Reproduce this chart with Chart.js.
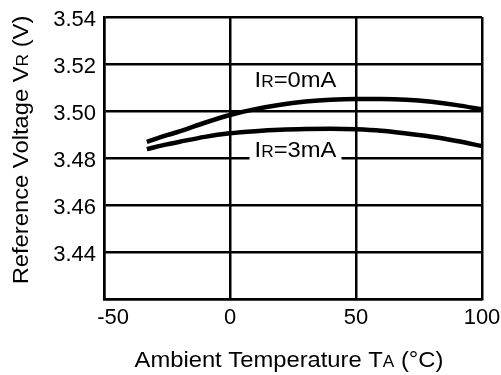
<!DOCTYPE html>
<html>
<head>
<meta charset="utf-8">
<script src="https://cdn.jsdelivr.net/npm/chart.js@4/dist/chart.umd.min.js"></script>
<style>
  html, body { margin: 0; padding: 0; background: #fff; }
  canvas { display: block; }
</style>
</head>
<body>
<canvas id="vrChart" width="501" height="375"></canvas>
<script>
// temperature (°C) and reference voltage (V)
const temps = [-33, -25, -20, -10, 0, 10, 20, 30, 40, 50, 60, 70, 80, 90, 100];
const vrNoLoad = [3.4869, 3.4897, 3.4913, 3.4950, 3.4983, 3.5008, 3.5027, 3.5040, 3.5048, 3.5051, 3.5051, 3.5048, 3.5039, 3.5025, 3.5007];
const vrLoad3mA = [3.4838, 3.4858, 3.4869, 3.4890, 3.4905, 3.4914, 3.4920, 3.4923, 3.4924, 3.4922, 3.4916, 3.4904, 3.4890, 3.4872, 3.4851];

const xTicks = [-50, 0, 50, 100];
const yTicks = [3.42, 3.44, 3.46, 3.48, 3.50, 3.52, 3.54];

const FONT = '"Liberation Sans", Arial, sans-serif';
const STRETCH = 1.08; // original lettering is a bit wider than Liberation Sans

// writes "main" + small "sub" + "rest" on one baseline, centred at x
function subText(ctx, x, y, main, sub, rest, big, small) {
    ctx.save();
    ctx.font = big + 'px ' + FONT;
    const w1 = ctx.measureText(main).width;
    const w3 = ctx.measureText(rest).width;
    ctx.font = small + 'px ' + FONT;
    const w2 = ctx.measureText(sub).width;
    ctx.translate(x, y);
    ctx.scale(STRETCH, 1);
    let cx = -(w1 + w2 + w3) / 2;
    ctx.textAlign = 'left';
    ctx.textBaseline = 'alphabetic';
    ctx.font = big + 'px ' + FONT;
    ctx.fillText(main, cx, 0);
    cx += w1;
    ctx.font = small + 'px ' + FONT;
    ctx.fillText(sub, cx, 0);
    cx += w2;
    ctx.font = big + 'px ' + FONT;
    ctx.fillText(rest, cx, 0);
    ctx.restore();
}

const labelsPlugin = {
    id: 'curveLabels',
    afterDatasetsDraw(chart) {
        const ctx = chart.ctx;
        const xs = chart.scales.x, ys = chart.scales.y;
        ctx.save();
        ctx.fillStyle = '#000';

        // IR=0mA label
        subText(ctx, xs.getPixelForValue(26), ys.getPixelForValue(3.5102), 'I', 'R', '=0mA', 22, 16);

        // IR=3mA label, white box cuts the grid line
        const lx = xs.getPixelForValue(26), ly = ys.getPixelForValue(3.4804);
        ctx.fillStyle = '#fff';
        ctx.fillRect(lx - 46, ly - 17, 92, 22);
        ctx.fillStyle = '#000';
        subText(ctx, lx, ly, 'I', 'R', '=3mA', 22, 16);

        // axis titles
        subText(ctx, 289, 367, 'Ambient Temperature T', 'A', ' (°C)', 22, 16);

        ctx.translate(28, 150);
        ctx.rotate(-Math.PI / 2);
        subText(ctx, 0, 0, 'Reference Voltage V', 'R', ' (V)', 22, 16);
        ctx.restore();
    }
};

const ctx = document.getElementById('vrChart').getContext('2d');
new Chart(ctx, {
    type: 'line',
    data: {
        datasets: [{
            label: 'IR=0mA',
            data: temps.map((t, i) => ({ x: t, y: vrNoLoad[i] })),
            borderColor: '#000',
            borderWidth: 4.5,
            pointRadius: 0,
            fill: false,
            cubicInterpolationMode: 'monotone'
        }, {
            label: 'IR=3mA',
            data: temps.map((t, i) => ({ x: t, y: vrLoad3mA[i] })),
            borderColor: '#000',
            borderWidth: 4.5,
            pointRadius: 0,
            fill: false,
            cubicInterpolationMode: 'monotone'
        }]
    },
    options: {
        responsive: false,
        animation: false,
        layout: { padding: { left: 0, top: 17, right: 19, bottom: 0 } },
        plugins: {
            legend: { display: false },
            tooltip: { enabled: false }
        },
        scales: {
            x: {
                type: 'linear',
                min: -50,
                max: 100,
                afterBuildTicks: scale => { scale.ticks = xTicks.map(v => ({ value: v })); },
                afterFit: scale => {
                    scale.height = 76;
                    scale.paddingLeft = 0;
                    scale.paddingRight = 0;
                },
                grid: { color: '#000', lineWidth: 2.5, drawTicks: false },
                border: { color: '#000', width: 2.5 },
                ticks: {
                    color: '#000',
                    padding: 6,
                    maxRotation: 0,
                    font: { family: FONT, size: 22 },
                    // leading spaces nudge "-50" right, as in the original
                    callback: v => (v === -50 ? '   -50' : String(v))
                }
            },
            y: {
                min: 3.42,
                max: 3.54,
                afterBuildTicks: scale => { scale.ticks = yTicks.map(v => ({ value: v })); },
                afterFit: scale => {
                    scale.width = 104;
                    scale.paddingTop = 0;
                    scale.paddingBottom = 0;
                },
                grid: { color: '#000', lineWidth: 2.5, drawTicks: false },
                border: { color: '#000', width: 2.5 },
                ticks: {
                    color: '#000',
                    padding: 8,
                    labelOffset: 3,
                    font: { family: FONT, size: 22 },
                    callback: v => (v < 3.43 ? '' : v.toFixed(2))
                }
            }
        }
    },
    plugins: [labelsPlugin]
});
</script>
</body>
</html>
